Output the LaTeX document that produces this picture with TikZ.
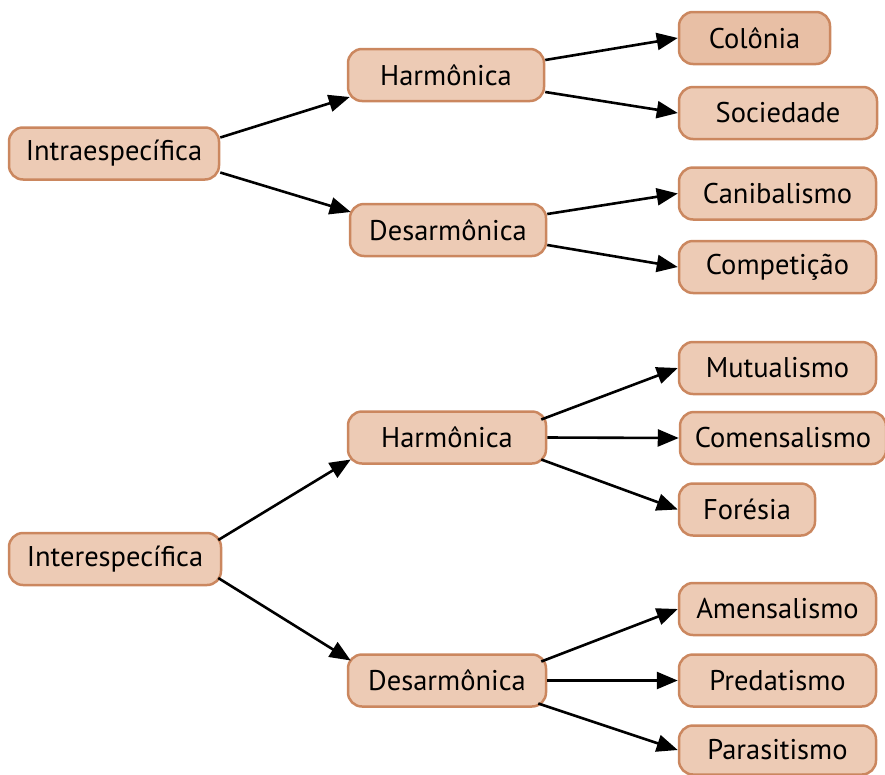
\documentclass[tikz,border=0pt]{standalone}
\usepackage{fontspec}
\setmainfont{PT Sans}
\usetikzlibrary{arrows.meta}
\definecolor{boxfill}{HTML}{EDCBB5}
\definecolor{boxfilldark}{HTML}{E8BFA5}
\definecolor{boxline}{HTML}{CB875F}
\tikzset{
  box/.style={draw=boxline, fill=boxfill, line width=2.5pt, rounded corners=14pt,
    inner sep=0pt, minimum height=52pt, font=\fontsize{28.5}{32}\selectfont},
  arr/.style={line width=2.6pt, -{Triangle[length=21pt,width=17pt]}}
}
\begin{document}
\begin{tikzpicture}[x=1pt,y=-1pt]
\useasboundingbox (0,0) rectangle (885,774);
% first tree
\node[box, minimum width=210pt] (intra) at (114,153.5) {Intraespecífica};
\node[box, minimum width=196pt] (h1) at (446,75) {Harmônica};
\node[box, minimum width=196pt] (d1) at (448,230) {Desarmônica};
\node[box, fill=boxfilldark, minimum width=151pt] (col) at (754.5,38) {Colônia};
\node[box, minimum width=198pt] (soc) at (778,113) {Sociedade};
\node[box, minimum width=197pt] (can) at (777.5,193.5) {Canibalismo};
\node[box, minimum width=197pt] (comp) at (777.5,267) {Competição};
% second tree
\node[box, minimum width=212pt] (inter) at (115,559) {Interespecífica};
\node[box, minimum width=198pt] (h2) at (447,437.5) {Harmônica};
\node[box, minimum width=198pt] (d2) at (447,680.5) {Desarmônica};
\node[box, minimum width=197pt] (mut) at (777.5,368) {Mutualismo};
\node[box, minimum width=206pt] (come) at (783,438) {Comensalismo};
\node[box, minimum width=136pt] (for) at (747,509.5) {Forésia};
\node[box, minimum width=197pt] (ame) at (777.5,609) {Amensalismo};
\node[box, minimum width=197pt] (pred) at (777.5,680.5) {Predatismo};
\node[box, minimum width=197pt, minimum height=49pt] (par) at (777.5,750) {Parasitismo};
% connectors
\draw[arr] ([yshift=16pt]intra.east) -- ([yshift=-22pt,xshift=3pt]h1.west);
\draw[arr] ([yshift=-19pt]intra.east) -- ([yshift=18pt,xshift=2pt]d1.west);
\draw[arr] ([yshift=15pt]h1.east) -- (col.west);
\draw[arr] ([yshift=-17pt]h1.east) -- (soc.west);
\draw[arr] ([yshift=16pt]d1.east) -- (can.west);
\draw[arr] ([yshift=-15pt]d1.east) -- (comp.west);
\draw[arr] ([yshift=18pt,xshift=-6pt]h2.east) -- (mut.west);
\draw[arr] (h2.east) -- (come.west);
\draw[arr] ([yshift=-22pt,xshift=-6pt]h2.east) -- (for.west);
\draw[arr] ([yshift=19pt,xshift=-4pt]inter.east) -- ([yshift=-22pt,xshift=4pt]h2.west);
\draw[arr] ([yshift=-19pt,xshift=-4pt]inter.east) -- ([yshift=20pt,xshift=4pt]d2.west);
\draw[arr] ([yshift=19pt,xshift=-6pt]d2.east) -- (ame.west);
\draw[arr] (d2.east) -- (pred.west);
\draw[arr] ([yshift=-23pt,xshift=-9pt]d2.east) -- (par.west);
\end{tikzpicture}
\end{document}
